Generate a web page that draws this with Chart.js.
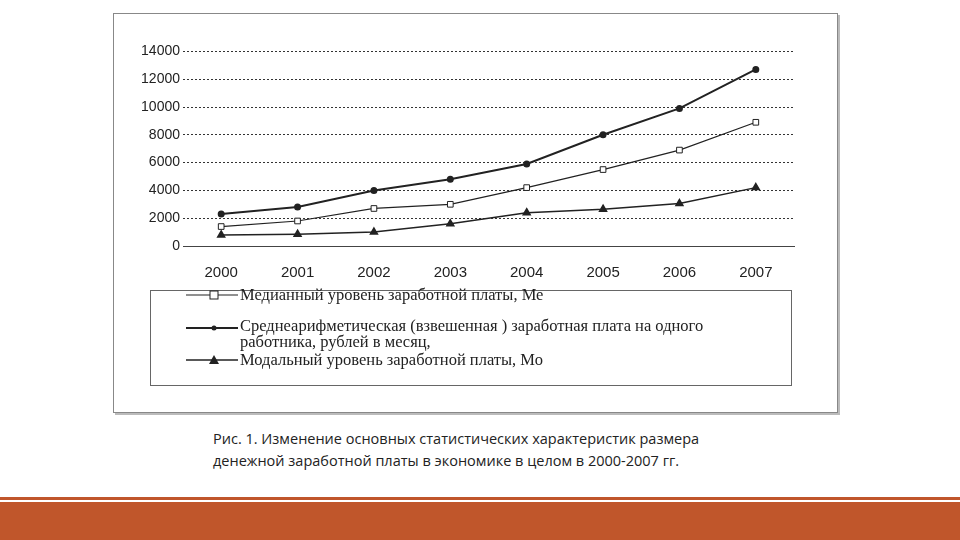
<!DOCTYPE html>
<html><head><meta charset="utf-8">
<script src="https://cdn.jsdelivr.net/npm/chart.js@4.4.0/dist/chart.umd.min.js"></script>
<style>
body{margin:0;width:960px;height:540px;background:#fff;position:relative;overflow:hidden;font-family:"Liberation Serif",serif}
#frame{position:absolute;left:113px;top:13px;width:723px;height:398px;border:1px solid #888;box-shadow:2px 2px 0 #bbb}
#wrap{position:absolute;left:120px;top:40px;width:680px;height:250px}
#legend{position:absolute;left:150px;top:290px;width:640px;height:94px;border:1px solid #666;font-size:16.5px;color:#222}
.it{position:absolute;left:35px;display:flex;align-items:flex-start}
.it svg{margin-right:2px;margin-top:3px}
#cap{position:absolute;left:213px;top:428px;font-family:"Open Sans",sans-serif;font-size:14.5px;line-height:22px;color:#222}
#bar1{position:absolute;left:0;top:497px;width:960px;height:3px;background:#c0562b}
#bar2{position:absolute;left:0;top:502px;width:960px;height:38px;background:#c0562b}
</style></head><body>
<div id="frame"></div>
<div id="wrap"><canvas id="c"></canvas></div>
<div id="legend">
<div class="it" style="top:-6px"><svg width="52" height="14"><line x1="0" y1="7" x2="52" y2="7" stroke="#222" stroke-width="1.2"/><rect x="24" y="3" width="8" height="8" fill="#fff" stroke="#222"/></svg><span>Медианный уровень заработной платы, Ме</span></div>
<div class="it" style="top:27px"><svg width="52" height="14"><line x1="0" y1="7" x2="52" y2="7" stroke="#222" stroke-width="2"/><circle cx="28" cy="7" r="2.5" fill="#222"/></svg><span style="line-height:16px">Среднеарифметическая (взвешенная ) заработная плата на одного<br>работника, рублей в месяц,</span></div>
<div class="it" style="top:59px"><svg width="52" height="14"><line x1="0" y1="7" x2="52" y2="7" stroke="#222" stroke-width="1.5"/><polygon points="28,2 33,11 23,11" fill="#222"/></svg><span>Модальный уровень заработной платы, Мо</span></div>
</div>
<div id="cap">Рис. 1. Изменение основных статистических характеристик размера<br>денежной заработной платы в экономике в целом в 2000-2007 гг.</div>
<div id="bar1"></div><div id="bar2"></div>
<script>
const years=["2000","2001","2002","2003","2004","2005","2006","2007"];
const median=[1400,1800,2700,3000,4200,5500,6900,8900];
const mean=[2300,2800,4000,4800,5900,8000,9900,12700];
const mode=[800,850,1000,1600,2400,2650,3050,4200];
new Chart(document.getElementById('c'),{type:'line',
data:{labels:years,datasets:[
{data:median,borderColor:'#222',borderWidth:1.2,pointStyle:'rect',pointRadius:4,pointBackgroundColor:'#fff',pointBorderColor:'#222',pointBorderWidth:1},
{data:mean,borderColor:'#222',borderWidth:2,pointStyle:'circle',pointRadius:2.5,pointBackgroundColor:'#222'},
{data:mode,borderColor:'#222',borderWidth:1.5,pointStyle:'triangle',pointRadius:4,pointBackgroundColor:'#222'}]},
options:{responsive:true,maintainAspectRatio:false,animation:false,
layout:{padding:{top:9,right:5}},
plugins:{legend:{display:false},tooltip:{enabled:false}},
scales:{
x:{offset:true,grid:{display:false},border:{color:'#444'},ticks:{color:'#222',font:{family:'Liberation Sans',size:15},padding:10},afterFit:s=>{s.height=44}},
y:{min:0,max:14000,ticks:{stepSize:2000,color:'#222',font:{family:'Liberation Sans',size:14},callback:v=>String(v)},
grid:{color:'#333',lineWidth:1,drawTicks:false},border:{display:false,dash:[2,2]},
afterFit:s=>{s.width=63}}}}});
</script>
</body></html>
